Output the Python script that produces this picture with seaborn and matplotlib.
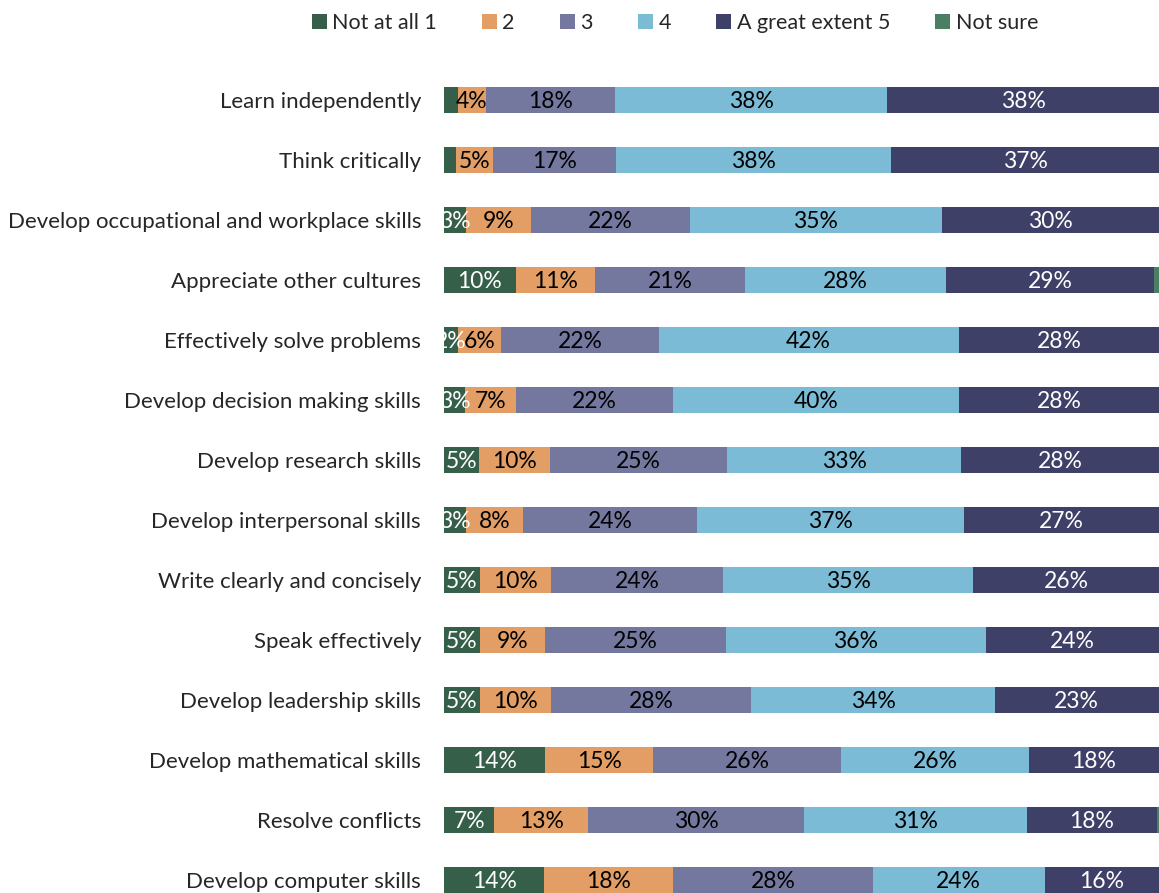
import numpy as np
import pandas as pd
import matplotlib
matplotlib.use("Agg")
import matplotlib.pyplot as plt
from matplotlib.patches import Patch
import seaborn as sns

categories = [
    "Learn independently",
    "Think critically",
    "Develop occupational and workplace skills",
    "Appreciate other cultures",
    "Effectively solve problems",
    "Develop decision making skills",
    "Develop research skills",
    "Develop interpersonal skills",
    "Write clearly and concisely",
    "Speak effectively",
    "Develop leadership skills",
    "Develop mathematical skills",
    "Resolve conflicts",
    "Develop computer skills",
]

not_at_all = [1.9, 1.7, 3, 10, 2, 3, 5, 3, 5, 5, 5, 14, 7, 14]
level_2 = [4, 5, 9, 11, 6, 7, 10, 8, 10, 9, 10, 15, 13, 18]
level_3 = [18, 17, 22, 21, 22, 22, 25, 24, 24, 25, 28, 26, 30, 28]
level_4 = [38, 38, 35, 28, 42, 40, 33, 37, 35, 36, 34, 26, 31, 24]
great_extent = [38, 37, 30, 29, 28, 28, 28, 27, 26, 24, 23, 18, 18, 16]
not_sure = [0, 0, 0, 0.7, 0, 0, 0, 0, 0, 0, 0, 0, 0.3, 0]

series_names = ["Not at all 1", "2", "3", "4", "A great extent 5", "Not sure"]
series_values = [not_at_all, level_2, level_3, level_4, great_extent, not_sure]
colors = ["#365F4A", "#E29E65", "#74789F", "#7BBBD5", "#3F4068", "#4B7F63"]
text_colors = ["white", "black", "black", "black", "white", None]

df = pd.DataFrame({name: vals for name, vals in zip(series_names, series_values)},
                  index=categories)
# 100% stacked: each row scaled to its total
shares = df.div(df.sum(axis=1), axis=0) * 100
cum = shares.cumsum(axis=1)

sns.set_style("white")
plt.rcParams["font.family"] = ["Lato", "DejaVu Sans"]

fig = plt.figure(figsize=(11.59, 8.93), dpi=100)
ax = fig.add_axes([444 / 1159, 0, 1 - 444 / 1159, 823 / 893])

# Draw cumulative totals from the last series back to the first so each
# segment sits on top of the ones to its right.
for k in range(len(series_names) - 1, -1, -1):
    plot_df = pd.DataFrame({"cat": categories, "val": cum.iloc[:, k].values})
    sns.barplot(data=plot_df, y="cat", x="val", order=categories, orient="h",
                color=colors[k], saturation=1, width=0.42, ax=ax,
                edgecolor="none", linewidth=0)

# Segment labels
for k, name in enumerate(series_names):
    if text_colors[k] is None:
        continue
    raw = df[name].values
    left = (cum.iloc[:, k] - shares.iloc[:, k]).values
    w = shares.iloc[:, k].values
    for i in range(len(categories)):
        if raw[i] < 2:
            continue
        ax.text(left[i] + w[i] / 2, i + 0.03, f"{raw[i]:.0f}%", ha="center",
                va="center", color=text_colors[k], fontsize=16.5, clip_on=True)

ax.set_xlim(0, 100)
ax.set_ylim(13 + 13 / 60, -0.5)
ax.set_xlabel("")
ax.set_ylabel("")
ax.set_xticks([])
ax.tick_params(axis="y", length=0, pad=16.5, labelsize=16)
for s in ax.spines.values():
    s.set_visible(False)

handles = [Patch(facecolor=c, edgecolor="none") for c in colors]
fig.legend(handles, series_names, loc="upper center", bbox_to_anchor=(675 / 1159, 1.007),
           ncol=6, frameon=False, fontsize=15.5, handlelength=0.7, handleheight=0.7,
           handletextpad=0.25, columnspacing=2.1)

fig.savefig("out.png", dpi=100)
